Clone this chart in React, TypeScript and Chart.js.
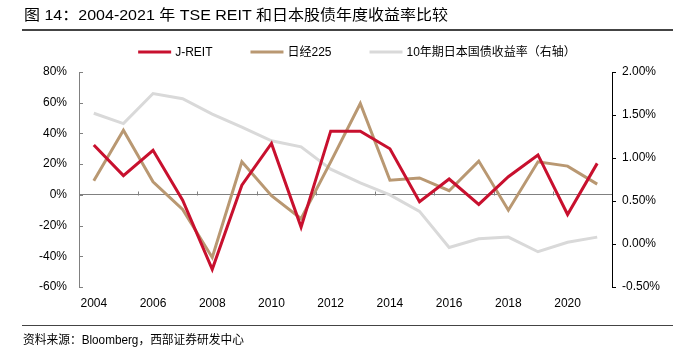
import React, { useEffect, useRef } from 'react';
import { Chart, registerables } from 'chart.js';

Chart.register(...registerables);

// ---- data ----
const years = ['2004', '2005', '2006', '2007', '2008', '2009', '2010', '2011', '2012', '2013', '2014', '2015', '2016', '2017', '2018', '2019', '2020', '2021'];
const jreit = [32.5, 12.5, 29, -3.5, -48.5, 6.3, 33.5, -21, 41.5, 41.5, 30, -4.5, 10.3, -6.2, 11.8, 26, -12.8, 20.5];
const nikkei225 = [9.2, 42, 8.5, -9.5, -40.8, 21.5, -0.5, -15.5, 21.5, 59.5, 9.5, 11, 2.7, 22, -10, 21.5, 18.7, 7];
const jgb10y = [1.52, 1.4, 1.75, 1.69, 1.51, 1.36, 1.2, 1.13, 0.87, 0.71, 0.57, 0.38, -0.04, 0.06, 0.08, -0.09, 0.02, 0.08];
const seriesNames = ['J-REIT', '日经225', '10年期日本国债收益率（右轴）'];
const TITLE = '图 14：2004-2021 年 TSE REIT 和日本股债年度收益率比较';
const SOURCE = '资料来源：Bloomberg，西部证券研发中心';

// ---- styles ----
const FONT = '"Liberation Sans", Arial, "Noto Sans CJK SC", sans-serif';
const RED = '#C8102E';
const TAN = '#B99872';
const GREY = '#D9D9D9';
const AXIS_GREY = '#808080';

Chart.defaults.font.family = FONT;
Chart.defaults.font.size = 12;
Chart.defaults.color = '#000';

const axisMarks = {
  id: 'axisMarks',
  beforeDatasetsDraw(chart: any) {
    const { ctx, chartArea, scales } = chart;
    const x = scales.x;
    const y = scales.y;
    ctx.save();
    ctx.strokeStyle = AXIS_GREY;
    ctx.lineWidth = 1;
    // inward ticks on left axis
    y.ticks.forEach((_t: any, i: number) => {
      const py = Math.round(y.getPixelForTick(i)) + 0.5;
      ctx.beginPath();
      ctx.moveTo(chartArea.left, py);
      ctx.lineTo(chartArea.left + 4, py);
      ctx.stroke();
    });
    // category tick marks on zero line
    const zy = Math.round(y.getPixelForValue(0)) + 0.5;
    for (let i = 2; i < years.length; i += 2) {
      const px = Math.round((x.getPixelForValue(i) + x.getPixelForValue(i - 1)) / 2) + 0.5;
      ctx.beginPath();
      ctx.moveTo(px, zy);
      ctx.lineTo(px, zy - 4);
      ctx.stroke();
    }
    ctx.restore();
  },
};

const LEGEND_CENTER_X = 357;
const LEGEND_Y = 52;
const legendPlugin = {
  id: 'lineLegend',
  afterDraw(chart: any) {
    const ctx = chart.ctx;
    ctx.save();
    ctx.font = '12px ' + FONT;
    ctx.textBaseline = 'middle';
    ctx.textAlign = 'left';
    const lineW = 33;
    const gap = 4;
    const spacing = 38;
    const items = chart.data.datasets.map((ds: any) => ({
      label: ds.label as string,
      color: ds.borderColor as string,
      w: ctx.measureText(ds.label).width,
    }));
    const total = items.reduce((s: number, it: any) => s + lineW + gap + it.w, 0) + spacing * (items.length - 1);
    let x = LEGEND_CENTER_X - total / 2;
    items.forEach((it: any) => {
      ctx.strokeStyle = it.color;
      ctx.lineWidth = 3;
      ctx.beginPath();
      ctx.moveTo(x, LEGEND_Y);
      ctx.lineTo(x + lineW, LEGEND_Y);
      ctx.stroke();
      ctx.fillStyle = '#000';
      ctx.fillText(it.label, x + lineW + gap, LEGEND_Y + 0.5);
      x += lineW + gap + it.w + spacing;
    });
    ctx.restore();
  },
};

function FitText(props: { text: string; left: number; top: number; width: number; size: number }) {
  const ref = useRef<HTMLSpanElement>(null);
  useEffect(() => {
    const fit = () => {
      const el = ref.current;
      if (!el) return;
      el.style.transform = 'none';
      const w = el.getBoundingClientRect().width;
      if (w > 0) el.style.transform = `scaleX(${props.width / w})`;
    };
    fit();
    if ((document as any).fonts && (document as any).fonts.ready) {
      (document as any).fonts.ready.then(fit);
    }
  }, [props.text, props.width]);
  return (
    <span
      ref={ref}
      style={{
        position: 'absolute',
        left: props.left,
        top: props.top,
        fontSize: props.size,
        lineHeight: props.size + 'px',
        whiteSpace: 'nowrap',
        transformOrigin: '0 50%',
        fontFamily: FONT,
        color: '#000',
      }}
    >
      {props.text}
    </span>
  );
}

export default function App() {
  const canvasRef = useRef<HTMLCanvasElement>(null);

  useEffect(() => {
    const canvas = canvasRef.current;
    if (!canvas) return;
    const chart = new Chart(canvas, {
      type: 'line',
      data: {
        labels: years,
        datasets: [
          { label: seriesNames[0], data: jreit, borderColor: RED, backgroundColor: RED, borderWidth: 3, pointRadius: 0, tension: 0, yAxisID: 'y' },
          { label: seriesNames[1], data: nikkei225, borderColor: TAN, backgroundColor: TAN, borderWidth: 3, pointRadius: 0, tension: 0, yAxisID: 'y' },
          { label: seriesNames[2], data: jgb10y, borderColor: GREY, backgroundColor: GREY, borderWidth: 3, pointRadius: 0, tension: 0, yAxisID: 'y1' },
        ],
      },
      options: {
        responsive: false,
        animation: false,
        devicePixelRatio: 1,
        layout: { padding: { top: 72, bottom: 48, left: 0, right: 0 } },
        plugins: { legend: { display: false }, tooltip: { enabled: false } },
        scales: {
          x: {
            type: 'category',
            offset: true,
            grid: { display: false },
            border: { display: false },
            ticks: {
              autoSkip: false,
              maxRotation: 0,
              minRotation: 0,
              padding: 1,
              color: '#000',
              font: { size: 12 },
              callback: (_v: any, i: number) => (i % 2 === 0 ? years[i] : ''),
            },
            afterFit: (s: any) => {
              s.height = 25;
            },
          },
          y: {
            position: 'left',
            min: -60,
            max: 80,
            ticks: {
              stepSize: 20,
              padding: 12,
              color: '#000',
              font: { size: 12 },
              callback: (v: any) => v + '%',
            },
            grid: {
              drawTicks: false,
              lineWidth: 1,
              color: (ctx: any) => (ctx.tick && ctx.tick.value === 0 ? AXIS_GREY : 'rgba(0,0,0,0)'),
            },
            border: { color: AXIS_GREY, width: 1 },
            afterFit: (s: any) => {
              s.width = 79;
            },
          },
          y1: {
            position: 'right',
            min: -0.5,
            max: 2,
            ticks: {
              stepSize: 0.5,
              padding: 6,
              color: '#000',
              font: { size: 12 },
              callback: (v: any) => Number(v).toFixed(2) + '%',
            },
            grid: { drawOnChartArea: false, drawTicks: true, tickLength: 4, color: '#000' },
            border: { color: '#000', width: 1 },
            afterFit: (s: any) => {
              s.width = 61;
            },
          },
        },
      } as any,
      plugins: [axisMarks, legendPlugin],
    });
    return () => chart.destroy();
  }, []);

  return (
    <div style={{ position: 'fixed', left: 0, top: 0, width: 673, height: 360, background: '#fff', overflow: 'hidden' }}>
      <canvas ref={canvasRef} width={673} height={360} style={{ position: 'absolute', left: 0, top: 0, width: 673, height: 360 }} />
      <FitText text={TITLE} left={24} top={7} width={424} size={15} />
      <div style={{ position: 'absolute', left: 22, top: 29, width: 651, height: 1.5, background: '#444' }} />
      <div style={{ position: 'absolute', left: 22, top: 324.5, width: 651, height: 1.5, background: '#444' }} />
      <FitText text={SOURCE} left={23} top={334} width={221} size={12} />
    </div>
  );
}
